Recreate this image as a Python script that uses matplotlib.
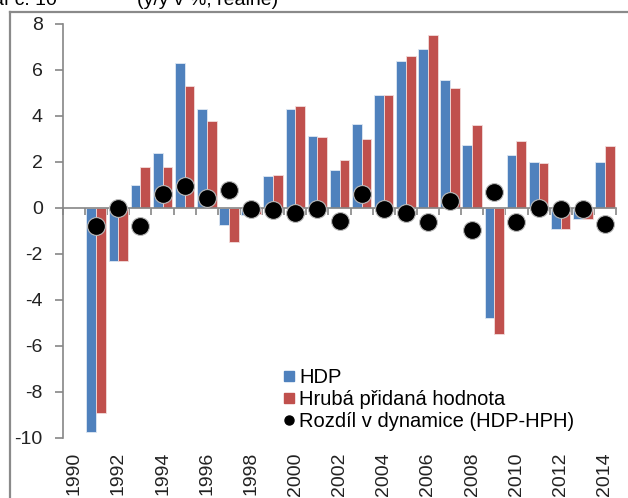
import matplotlib
matplotlib.use("Agg")
import matplotlib.pyplot as plt
import numpy as np
from matplotlib.lines import Line2D

plt.rcParams['font.family'] = ['Liberation Sans', 'DejaVu Sans']

# data
roky = list(range(1990, 2015))
hdp = [np.nan, -9.75, -2.3, 1.0, 2.4, 6.3, 4.3, -0.75, -0.3, 1.4, 4.3, 3.15, 1.65,
       3.65, 4.9, 6.4, 6.9, 5.55, 2.75, -4.8, 2.3, 2.0, -0.9, -0.5, 2.0]
hph = [np.nan, -8.9, -2.3, 1.8, 1.8, 5.3, 3.8, -1.5, -0.25, 1.45, 4.45, 3.1, 2.1,
       3.0, 4.9, 6.6, 7.5, 5.2, 3.6, -5.5, 2.9, 1.95, -0.9, -0.5, 2.7]
rozdil = [np.nan, -0.8, 0.0, -0.8, 0.6, 0.95, 0.45, 0.8, -0.05, -0.1, -0.2, -0.05, -0.55,
          0.6, -0.05, -0.2, -0.6, 0.3, -0.95, 0.7, -0.6, 0.0, -0.05, -0.05, -0.7]
popisky_x = [str(r) for r in roky[::2]]
yticks = [-10, -8, -6, -4, -2, 0, 2, 4, 6, 8]

modra = '#4F81BD'
cervena = '#C0504D'
seda = '#868686'

fig = plt.figure(figsize=(6.28, 4.98), dpi=100)
ax = fig.add_axes([63 / 628, 1 - 438 / 498, 553 / 628, 414 / 498])

x = np.arange(len(roky))
w = 0.44
ax.bar(x - w / 2, hdp, width=w, color=modra, edgecolor='#dfe8f3', linewidth=0.6,
       label='HDP', zorder=2)
ax.bar(x + w / 2, hph, width=w, color=cervena, edgecolor='#f2dcdb', linewidth=0.6,
       label='Hrubá přidaná hodnota', zorder=2)
ax.scatter(x, rozdil, s=165, color='black', edgecolor='#bbbbbb', linewidth=0.8,
           zorder=4, label='Rozdíl v dynamice (HDP-HPH)')

ax.set_xlim(-0.5, len(roky) - 0.5)
ax.set_ylim(-10, 8)

# osy
for s in ['top', 'right']:
    ax.spines[s].set_visible(False)
ax.spines['left'].set_color(seda)
ax.spines['left'].set_linewidth(1.2)
ax.spines['bottom'].set_position(('data', 0))
ax.spines['bottom'].set_color(seda)
ax.spines['bottom'].set_linewidth(1.2)
ax.spines['bottom'].set_zorder(3)

ax.set_yticks(yticks)
ax.set_yticklabels([str(v) for v in yticks])
ax.tick_params(axis='y', direction='out', length=6, width=1.2, color=seda,
               labelsize=14, labelcolor='#222222', pad=8.5)

ax.set_xticks(x[::2])
ax.set_xticklabels([])
ax.set_xticks(np.arange(-0.5, len(roky), 1.0), minor=True)
ax.tick_params(axis='x', which='major', length=0)
ax.tick_params(axis='x', which='minor', direction='out', length=5, width=1.2, color=seda)

for xi, lab in zip(x[::2], popisky_x):
    ax.text(xi, -0.034, lab, transform=ax.get_xaxis_transform(), rotation=90,
            ha='center', va='top', fontsize=14, color='#222222')

# legenda
handles = [
    Line2D([], [], marker='s', linestyle='none', markersize=7.5, color=modra),
    Line2D([], [], marker='s', linestyle='none', markersize=7.5, color=cervena),
    Line2D([], [], marker='o', linestyle='none', markersize=6.5, color='black'),
]
labels = ['HDP', 'Hrubá přidaná hodnota', 'Rozdíl v dynamice (HDP-HPH)']
ax.legend(handles, labels, loc='upper left', bbox_to_anchor=(284 / 628, 1 - 368 / 498),
          bbox_transform=fig.transFigure, frameon=False, fontsize=14.5,
          handlelength=0.5, handletextpad=0.25, labelspacing=0.15, borderpad=0,
          borderaxespad=0)

# ramecek grafu a orezany titulek
fig.add_artist(Line2D([10 / 628, 10 / 628], [0, 1 - 12.5 / 498], color='#8a8a8a',
                      linewidth=1.6, transform=fig.transFigure))
fig.add_artist(Line2D([10 / 628, 1], [1 - 12.5 / 498, 1 - 12.5 / 498], color='#8a8a8a',
                      linewidth=1.6, transform=fig.transFigure))
fig.text(57 / 628, 1 - 5 / 498, 'Graf č. 10', ha='right', va='baseline', fontsize=14)
fig.text(137 / 628, 1 - 5 / 498, '(y/y v %, reálně)', ha='left', va='baseline', fontsize=14)

fig.savefig('out.png', dpi=100)
